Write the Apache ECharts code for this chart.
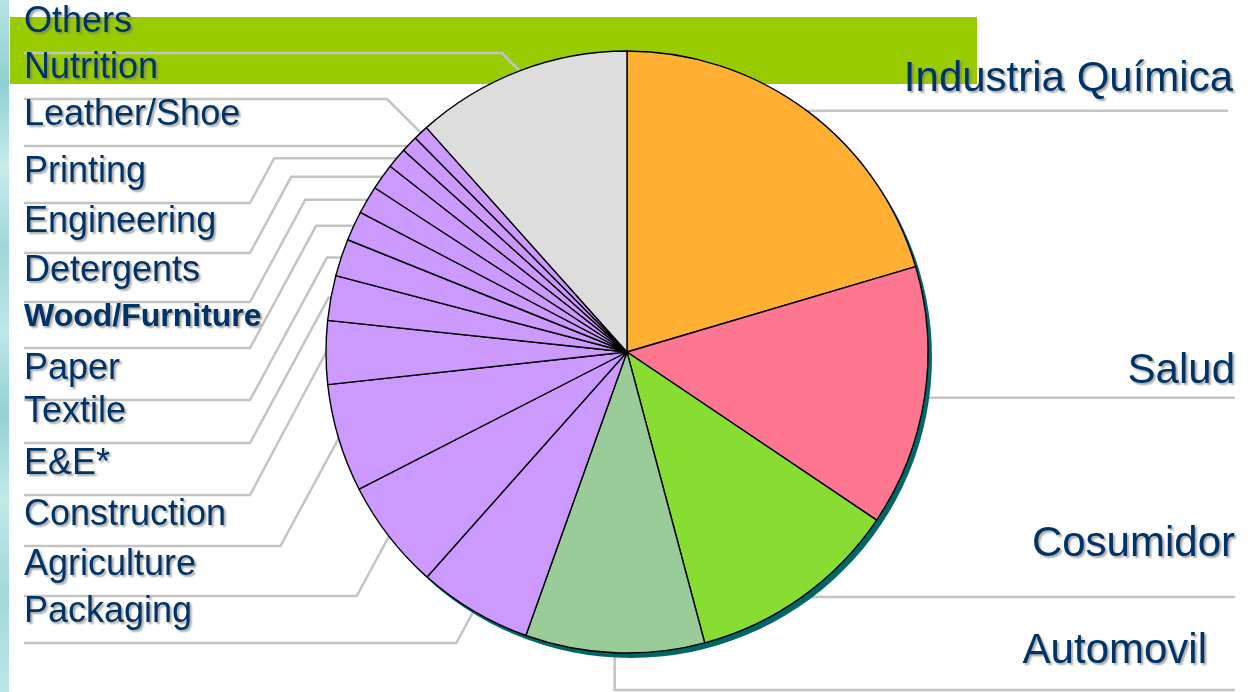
<!DOCTYPE html>
<html>
<head>
<meta charset="utf-8">
<script src="https://cdn.jsdelivr.net/npm/echarts@6/dist/echarts.min.js"></script>
<style>
html, body { margin: 0; padding: 0; width: 1250px; height: 692px; overflow: hidden; background: #ffffff; }
#strip { position: absolute; left: 0; top: 0; width: 9px; height: 692px;
  background: linear-gradient(180deg, #b7e3e4 0%, #8fcfd3 12%, #c9ecec 24%, #9fd7da 36%, #bfe7e7 48%, #92d1d5 60%, #c3e9e9 72%, #a2d9db 86%, #bde6e6 100%); }
#chart { position: absolute; left: 0; top: 0; width: 1250px; height: 692px; }
</style>
</head>
<body>
<div id="strip"></div>
<div id="chart"></div>
<script>
// ---- data (clockwise from 12 o'clock) ----
const categories = ['Industria Química', 'Salud', 'Cosumidor', 'Automovil',
  'Packaging', 'Agriculture', 'Construction', 'E&E*', 'Textile', 'Paper',
  'Wood/Furniture', 'Detergents', 'Engineering', 'Printing', 'Leather/Shoe',
  'Nutrition', 'Others'];
const values = [20.4, 14.0, 11.4, 9.6, 6.1, 5.9, 5.8, 3.4, 2.4, 2.0, 1.6, 1.5, 1.4, 1.1, 0.9, 0.8, 11.6];
const sliceColors = ['#FFB033', '#FF7690', '#88DD33', '#99CC99',
  '#CC99FF', '#CC99FF', '#CC99FF', '#CC99FF', '#CC99FF', '#CC99FF',
  '#CC99FF', '#CC99FF', '#CC99FF', '#CC99FF', '#CC99FF', '#CC99FF', '#DDDDDD'];
// left label column, top to bottom
const leftOrder = ['Others', 'Nutrition', 'Leather/Shoe', 'Printing', 'Engineering',
  'Detergents', 'Wood/Furniture', 'Paper', 'Textile', 'E&E*', 'Construction',
  'Agriculture', 'Packaging'];
const boldLabels = ['Wood/Furniture'];

// ---- layout ----
const CX = 627, CY = 352, R = 301;
const LEFT_X = 24, KNEE_X = 250, SLOPE = 1.85;
const leftUnderlineY = [53, 99, 146, 203, 253, 302, 348, 400, 443, 495, 546, 596, 643];
const rightLayout = [
  { textX: 1233, textDy: -31, lineEndX: 1228 },
  { textX: 1235, textDy: -26, lineEndX: 1235 },
  { textX: 1235, textDy: -53, lineEndX: 1235 },
  { textX: 1207, textY: 651, dropY: 690, lineEndX: 1235 }
];

const total = values.reduce((a, b) => a + b, 0);
function fallbackRim(i) {
  let acc = 0;
  for (let j = 0; j < i; j++) acc += values[j];
  const mid = (acc + values[i] / 2) / total * 2 * Math.PI;
  return [CX + R * Math.sin(mid), CY - R * Math.cos(mid)];
}

function layoutLabel(p) {
  const i = p.dataIndex;
  const name = categories[i];
  const rim = (p.labelLinePoints && p.labelLinePoints[0]) || fallbackRim(i);
  const rx = rim[0], ry = rim[1];
  const li = leftOrder.indexOf(name);
  if (li >= 0) {
    const uy = leftUnderlineY[li];
    let pts;
    if (uy <= ry + 8) {
      const dx = Math.max(0, ry - uy);
      pts = [[rx, ry], [rx - dx, uy], [LEFT_X, uy]];
    } else {
      const dx = (uy - ry) / SLOPE;
      if (ry < CY + 20) {
        const topX = Math.min(rx, KNEE_X + dx);
        pts = [[rx, ry], [topX, ry], [KNEE_X, uy], [LEFT_X, uy]];
      } else {
        pts = [[rx, ry], [rx - dx, uy], [LEFT_X, uy]];
      }
    }
    return { x: LEFT_X, y: uy - 31, align: 'left', verticalAlign: 'middle', labelLinePoints: pts };
  }
  const r = rightLayout[i];
  let pts, ty;
  if (r.dropY != null) {
    pts = [[rx, ry], [rx, r.dropY], [r.lineEndX, r.dropY]];
    ty = r.textY;
  } else {
    pts = [[rx, ry], [r.lineEndX, ry]];
    ty = ry + r.textDy;
  }
  return { x: r.textX, y: ty, align: 'right', verticalAlign: 'middle', labelLinePoints: pts };
}

const pieData = categories.map((name, i) => {
  const isLeft = leftOrder.indexOf(name) >= 0;
  const bold = boldLabels.indexOf(name) >= 0;
  return {
    name: name,
    value: values[i],
    itemStyle: { color: sliceColors[i] },
    label: {
      fontSize: isLeft ? (bold ? 32 : 36) : 42,
      fontWeight: bold ? 'bold' : 'normal'
    }
  };
});

const chart = echarts.init(document.getElementById('chart'), null, { renderer: 'canvas' });
chart.setOption({
  backgroundColor: 'transparent',
  animation: false,
  graphic: [{
    type: 'rect', z: -10,
    shape: { x: 10, y: 17, width: 967, height: 67 },
    style: { fill: '#99CC00' }
  }],
  series: [
    {
      type: 'pie', silent: true, center: [CX + 4, CY + 5], radius: R,
      startAngle: 90, label: { show: false }, labelLine: { show: false },
      itemStyle: { color: '#006666', borderWidth: 0 },
      data: [{ value: total, name: 'shadow' }]
    },
    {
      type: 'pie', center: [CX, CY], radius: R, startAngle: 90, clockwise: true,
      avoidLabelOverlap: false, silent: true,
      itemStyle: { borderColor: '#000000', borderWidth: 1.4 },
      label: {
        show: true, position: 'outside', formatter: '{b}',
        color: '#003366',
        fontFamily: '"Liberation Sans", Arial, sans-serif',
        fontSize: 36,
        textShadowColor: 'rgba(110,110,110,0.6)',
        textShadowOffsetX: 2, textShadowOffsetY: 2, textShadowBlur: 2
      },
      labelLine: { show: true, length: 10, length2: 10, smooth: false,
        lineStyle: { color: '#c4c4c4', width: 2.5 } },
      labelLayout: layoutLabel,
      data: pieData
    }
  ]
});
</script>
</body>
</html>
